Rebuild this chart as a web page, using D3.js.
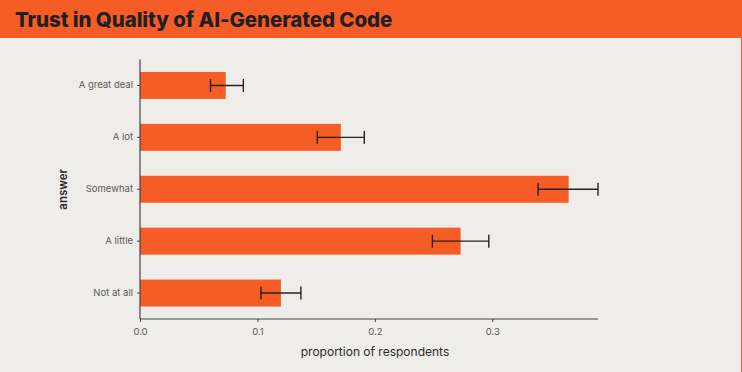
<!DOCTYPE html>
<html>
<head>
<meta charset="utf-8">
<script src="https://cdn.jsdelivr.net/npm/d3@7"></script>
<style>
  html, body { margin: 0; padding: 0; background: #efede9; }
  svg { display: block; }
</style>
</head>
<body>
<div id="chart"></div>
<script>
// survey answers, top to bottom
const answers = ["A great deal", "A lot", "Somewhat", "A little", "Not at all"];
const proportions = [0.073, 0.171, 0.365, 0.273, 0.120];
const lowerCI = [0.060, 0.151, 0.339, 0.249, 0.103];
const upperCI = [0.088, 0.191, 0.390, 0.297, 0.137];
const xTicks = [0.0, 0.1, 0.2, 0.3];

const width = 742;
const height = 372;
const orange = "#f65c25";
const margin = { top: 59.5, right: 144, bottom: 53, left: 140 };

const rows = answers.map((a, i) => ({
  answer: a,
  value: proportions[i],
  lo: lowerCI[i],
  hi: upperCI[i],
}));

const svg = d3
  .select("#chart")
  .append("svg")
  .attr("width", width)
  .attr("height", height);

svg.append("rect").attr("width", width).attr("height", height).attr("fill", "#efede9");

// header band
svg.append("rect").attr("width", width).attr("height", 38).attr("fill", orange);
svg
  .append("text")
  .attr("x", 15)
  .attr("y", 27)
  .attr("font-family", "Inter, 'Open Sans', sans-serif")
  .attr("font-weight", 800)
  .attr("font-size", 20.5)
  .attr("letter-spacing", -0.1)
  .attr("fill", "#1f1f24")
  .text("Trust in Quality of AI-Generated Code");

// thin orange edge on the right
svg
  .append("line")
  .attr("x1", width - 0.5)
  .attr("x2", width - 0.5)
  .attr("y1", 38)
  .attr("y2", height)
  .attr("stroke", orange)
  .attr("stroke-width", 1);

const x = d3
  .scaleLinear()
  .domain([0, d3.max(upperCI)])
  .range([margin.left, width - margin.right]);

const y = d3
  .scaleBand()
  .domain(answers)
  .range([margin.top, height - margin.bottom])
  .paddingInner(0.48)
  .paddingOuter(0.24);

const g = svg.append("g");

// bars
g.append("g")
  .selectAll("rect")
  .data(rows)
  .join("rect")
  .attr("x", x(0))
  .attr("y", (d) => y(d.answer))
  .attr("width", (d) => x(d.value) - x(0))
  .attr("height", y.bandwidth())
  .attr("fill", orange);

// error bars
const cap = 6.5;
const err = g
  .append("g")
  .attr("stroke", "#232323")
  .attr("stroke-width", 1.4)
  .selectAll("g")
  .data(rows)
  .join("g")
  .attr("transform", (d) => `translate(0,${y(d.answer) + y.bandwidth() / 2})`);

err.append("line").attr("x1", (d) => x(d.lo)).attr("x2", (d) => x(d.hi));
err
  .append("line")
  .attr("x1", (d) => x(d.lo))
  .attr("x2", (d) => x(d.lo))
  .attr("y1", -cap)
  .attr("y2", cap);
err
  .append("line")
  .attr("x1", (d) => x(d.hi))
  .attr("x2", (d) => x(d.hi))
  .attr("y1", -cap)
  .attr("y2", cap);

// axes
const fontFamily = "Inter, 'Open Sans', sans-serif";

const xAxis = svg
  .append("g")
  .attr("transform", `translate(0,${height - margin.bottom})`)
  .call(
    d3.axisBottom(x).tickValues(xTicks).tickFormat(d3.format(".1f")).tickSize(3).tickSizeOuter(0),
  );

const yAxis = svg
  .append("g")
  .attr("transform", `translate(${margin.left},0)`)
  .call(d3.axisLeft(y).tickSize(3).tickSizeOuter(0));

[xAxis, yAxis].forEach((ax) => {
  ax.select(".domain").attr("stroke", "#444").attr("stroke-width", 1.2);
  ax.selectAll(".tick line").attr("stroke", "#444");
  ax.selectAll(".tick text")
    .attr("fill", "#5a5a5a")
    .attr("font-family", fontFamily)
    .attr("font-size", 9.5);
});
xAxis.select(".domain").attr("d", `M${x(0)},0H${width - margin.right}`);
yAxis.select(".domain").attr("d", `M0,${margin.top}V${height - margin.bottom}`);
xAxis.selectAll(".tick text").attr("dy", "1.1em");
yAxis.selectAll(".tick text").attr("x", -7);

// axis titles
svg
  .append("text")
  .attr("x", 375)
  .attr("y", 356)
  .attr("text-anchor", "middle")
  .attr("font-family", fontFamily)
  .attr("font-size", 12)
  .attr("fill", "#2a2a2a")
  .text("proportion of respondents");

svg
  .append("text")
  .attr("transform", `translate(67,${(margin.top + height - margin.bottom) / 2}) rotate(-90)`)
  .attr("text-anchor", "middle")
  .attr("font-family", fontFamily)
  .attr("font-weight", 600)
  .attr("font-size", 11.5)
  .attr("fill", "#2a2a2a")
  .text("answer");
</script>
</body>
</html>
